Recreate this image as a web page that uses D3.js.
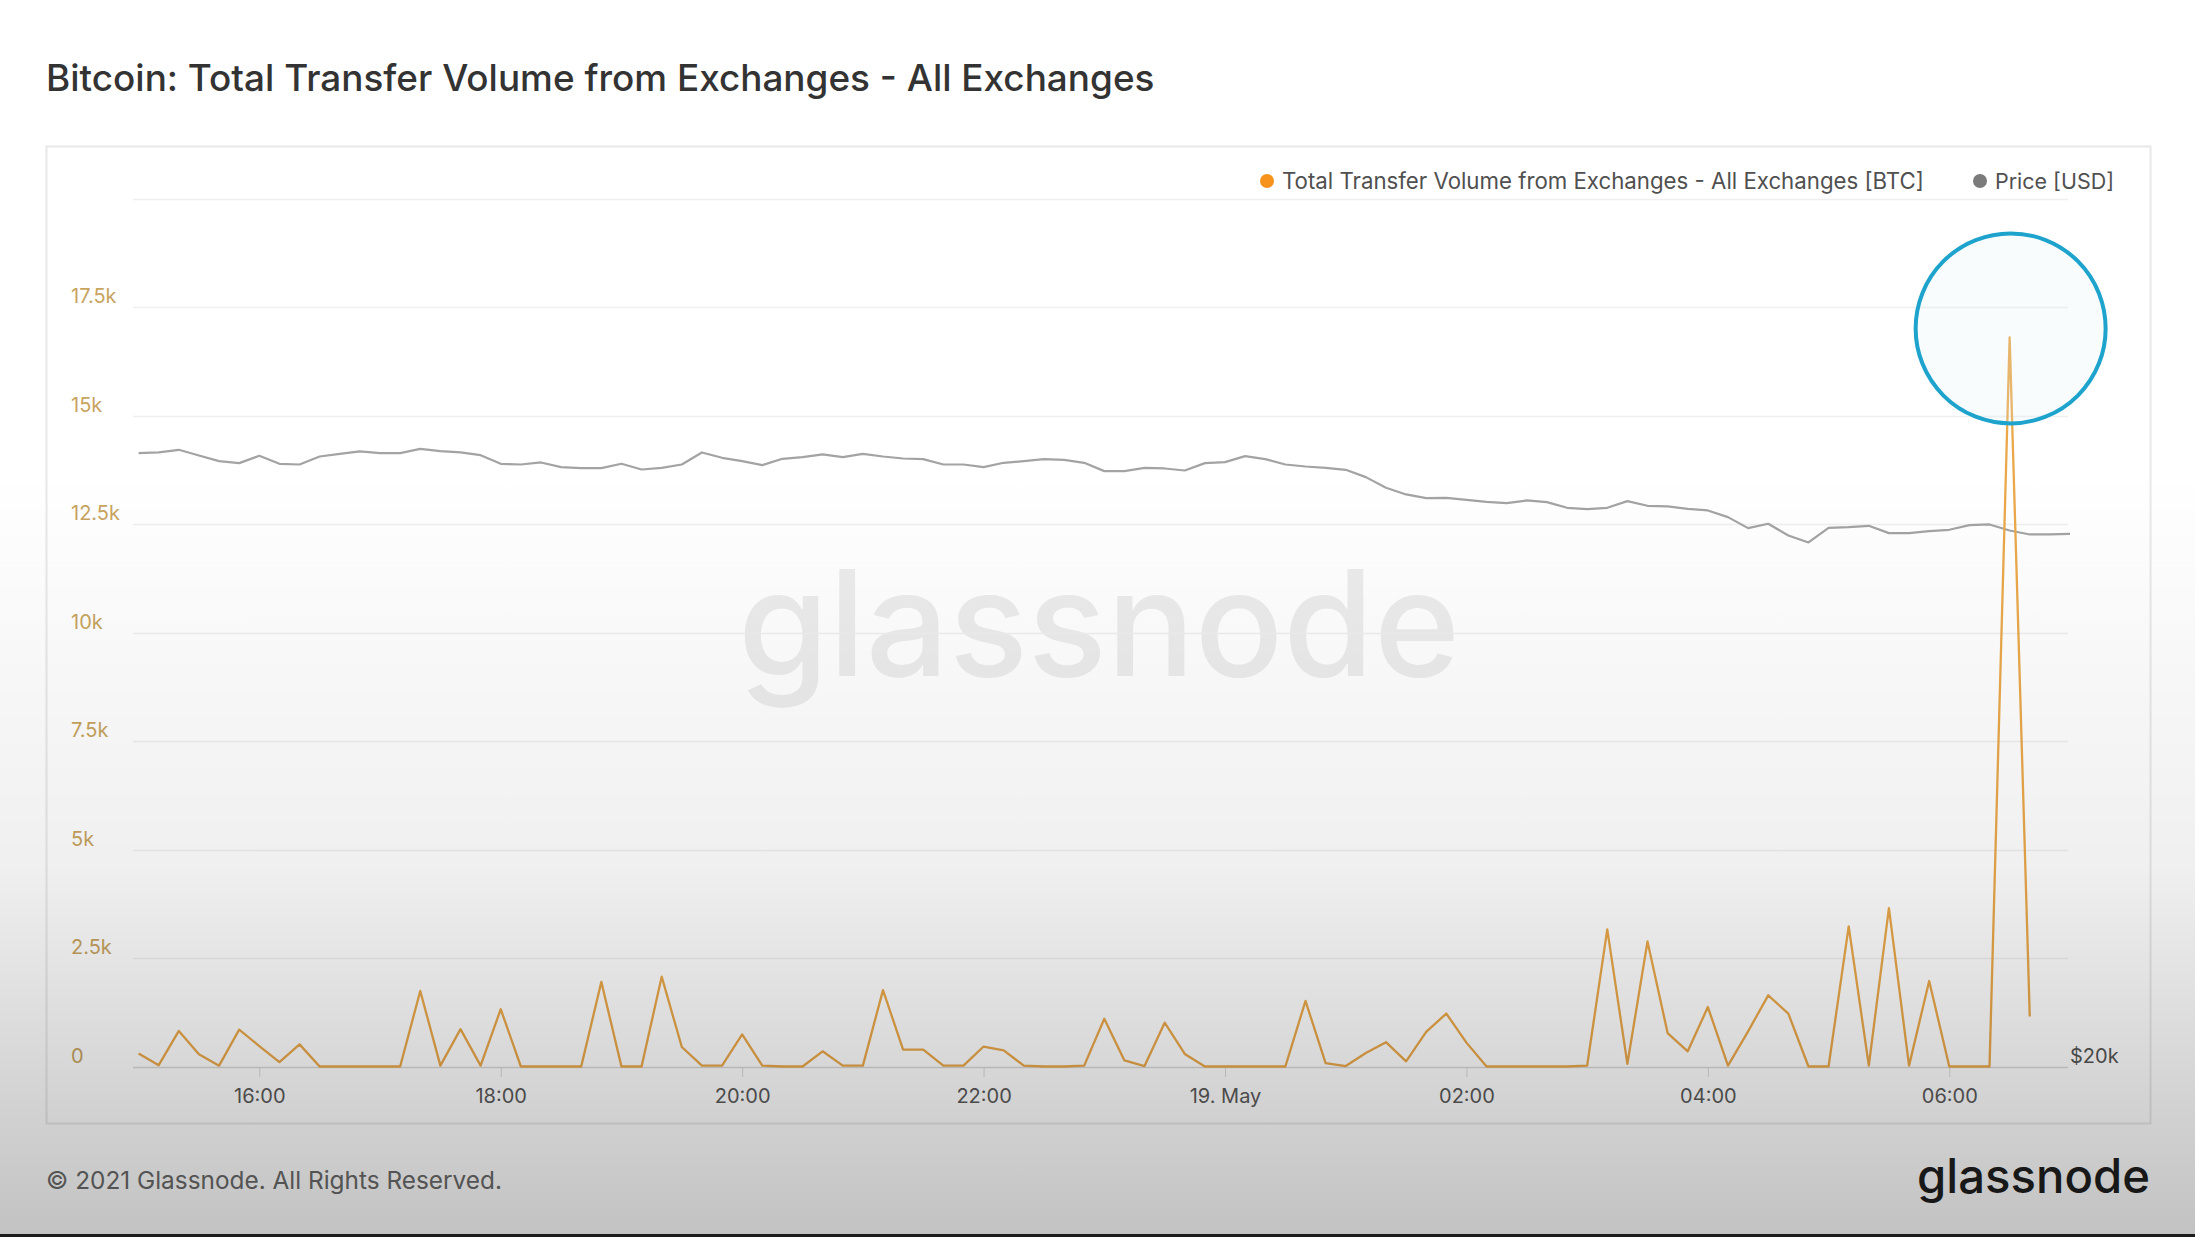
<meta charset="utf-8">
<script src="https://d3js.org/d3.v7.min.js"></script>
<style>
body { margin:0; background:#fff; overflow:hidden; }
svg text { font-family: Inter, "Noto Sans", sans-serif; }
</style>
<body>
<div id="rootElement"></div>
<script type="text/javascript">

// 10-minute points, 18 May 2021 15:00 onwards
var startTime = new Date(2021, 4, 18, 15, 0);

var volumeBTC = [
  300, 30, 820, 280, 20, 850, 470, 100, 510, 0,
  0, 0, 0, 0, 1740, 20, 860, 20, 1320, 0,
  0, 0, 0, 1950, 0, 0, 2070, 450, 20, 20,
  740, 20, 0, 0, 350, 20, 20, 1760, 390, 390,
  20, 20, 460, 370, 20, 0, 0, 20, 1100, 140,
  10, 1010, 290, 0, 0, 0, 0, 0, 1510, 80,
  10, 310, 560, 120, 800, 1220, 550, 0, 0, 0,
  0, 0, 20, 3160, 60, 2880, 770, 350, 1370, 20,
  810, 1640, 1220, 0, 0, 3230, 20, 3650, 20, 1970,
  0, 0, 0, 16800, 1150
];

var priceUSD = [
  43320, 43345, 43446, 43231, 43015, 42939, 43218, 42914, 42888, 43192,
  43294, 43383, 43319, 43319, 43484, 43395, 43345, 43243, 42914, 42888,
  42965, 42787, 42749, 42749, 42914, 42698, 42762, 42888, 43345, 43142,
  43015, 42863, 43104, 43167, 43269, 43167, 43294, 43192, 43116, 43091,
  42888, 42888, 42787, 42952, 43015, 43091, 43066, 42952, 42635, 42635,
  42762, 42736, 42660, 42939, 42977, 43205, 43091, 42888, 42812, 42762,
  42686, 42407, 42001, 41749, 41608, 41621, 41545, 41469, 41418, 41520,
  41456, 41241, 41190, 41241, 41494, 41317, 41292, 41203, 41140, 40886,
  40468, 40633, 40189, 39923, 40481, 40506, 40557, 40278, 40278, 40354,
  40405, 40582, 40607, 40379, 40227, 40227, 40252
];

var leftTicks = [0, 2500, 5000, 7500, 10000, 12500, 15000, 17500];
var gridTicks = [0, 2500, 5000, 7500, 10000, 12500, 15000, 17500, 20000];
var rightTicks = [20000];
var seriesNames = ['Total Transfer Volume from Exchanges - All Exchanges [BTC]', 'Price [USD]'];

var
  width = 2195,
  height = 1237,
  svg = d3.select('#rootElement').append('svg')
          .attr('width', width)
          .attr('height', height);

var timeAt = function(i) { return d3.timeMinute.offset(startTime, i * 10); };

var x = d3.scaleTime()
          .domain([startTime, d3.timeHour.offset(startTime, 16)])
          .range([138.6, 2070]);
var y = d3.scaleLinear().domain([0, 20000]).range([1066.5, 198.5]);
var yPrice = d3.scaleLinear().domain([20000, 53000]).range([1066.5, 198.5]);

// shrink/grow text so it covers the same width as in the screenshot
var fitWidth = function(sel, target) {
  var size = parseFloat(sel.attr('font-size'));
  var w = sel.node().getComputedTextLength();
  sel.attr('font-size', (size * target / w).toFixed(2));
};

// title
svg.append('text')
   .attr('x', 46).attr('y', 91)
   .attr('font-size', 34).attr('font-weight', 500)
   .attr('fill', '#333')
   .text('Bitcoin: Total Transfer Volume from Exchanges - All Exchanges')
   .call(fitWidth, 1109);

// panel
svg.append('rect')
   .attr('x', 46.5).attr('y', 146.5)
   .attr('width', 2104).attr('height', 977)
   .attr('fill', '#fff').attr('stroke', '#e8e8e8').attr('stroke-width', 2);

// watermark
svg.append('text')
   .attr('x', 1099).attr('y', 676)
   .attr('text-anchor', 'middle')
   .attr('font-size', 160).attr('font-weight', 500)
   .attr('fill', '#ececec')
   .text('glassnode')
   .call(fitWidth, 722);

// grid
svg.append('g').selectAll('line')
   .data(gridTicks).enter().append('line')
   .attr('x1', 133).attr('x2', 2068)
   .attr('y1', function(d) { return Math.round(y(d)) + 0.5; })
   .attr('y2', function(d) { return Math.round(y(d)) + 0.5; })
   .attr('stroke', function(d) { return d === 0 ? '#d9d9d9' : '#efefef'; })
   .attr('stroke-width', 1.5);

// left axis labels
svg.append('g').selectAll('text')
   .data(leftTicks).enter().append('text')
   .attr('x', 71)
   .attr('y', function(d) { return y(d) - 4; })
   .attr('font-size', 20)
   .attr('fill', '#c7a45f')
   .text(function(d) { return d === 0 ? '0' : d3.format('~')(d / 1000) + 'k'; });

// right axis label
svg.append('g').selectAll('text')
   .data(rightTicks).enter().append('text')
   .attr('x', 2070)
   .attr('y', function(d) { return yPrice(d) - 4; })
   .attr('font-size', 20)
   .attr('fill', '#555')
   .text(function(d) { return '$' + (d / 1000) + 'k'; });

// x axis
var xTicks = d3.timeHour.every(2).range(d3.timeHour.offset(startTime, 1), d3.timeHour.offset(startTime, 16));
var fmtTick = function(d) {
  return d.getHours() === 0 ? d3.timeFormat('%-d. %b')(d) : d3.timeFormat('%H:%M')(d);
};
var xAxis = svg.append('g')
   .attr('transform', 'translate(0,1067)')
   .call(d3.axisBottom(x).tickValues(xTicks).tickFormat(fmtTick).tickSize(10).tickPadding(12));
xAxis.select('.domain').remove();
xAxis.selectAll('line').attr('stroke', '#dadada');
xAxis.selectAll('text')
   .attr('font-size', 20)
   .attr('font-family', 'Inter, "Noto Sans", sans-serif')
   .attr('fill', '#5a5a5a');

// price line
var priceLine = d3.line()
   .x(function(d, i) { return x(timeAt(i)); })
   .y(function(d) { return yPrice(d); });
svg.append('path')
   .datum(priceUSD)
   .attr('d', priceLine)
   .attr('fill', 'none')
   .attr('stroke', '#a3a3a3')
   .attr('stroke-width', 2.2)
   .attr('stroke-linejoin', 'round');

// volume line
var volumeLine = d3.line()
   .x(function(d, i) { return x(timeAt(i)); })
   .y(function(d) { return y(d); });
svg.append('path')
   .datum(volumeBTC)
   .attr('d', volumeLine)
   .attr('fill', 'none')
   .attr('stroke', '#eaa84a')
   .attr('stroke-width', 2.3)
   .attr('stroke-linejoin', 'round');

// legend
var legendX = [1267, 1980];
var legendColors = ['#f7931a', '#7b7b7b'];
var legendW = [642, 119];
var legend = svg.append('g').selectAll('g')
   .data(seriesNames).enter().append('g');
legend.append('circle')
   .attr('cx', function(d, i) { return legendX[i]; })
   .attr('cy', 181).attr('r', 7)
   .attr('fill', function(d, i) { return legendColors[i]; });
legend.append('text')
   .attr('x', function(d, i) { return legendX[i] + 15; })
   .attr('y', 189)
   .attr('font-size', 21)
   .attr('fill', '#505050')
   .text(function(d) { return d; })
   .each(function(d, i) { fitWidth(d3.select(this), legendW[i]); });

// highlight around the spike
var peakIdx = volumeBTC.indexOf(d3.max(volumeBTC));
svg.append('circle')
   .attr('cx', x(timeAt(peakIdx)) + 1)
   .attr('cy', y(volumeBTC[peakIdx]) - 9)
   .attr('r', 95)
   .attr('fill', 'rgba(222,240,247,0.2)')
   .attr('stroke', '#1ea3cc')
   .attr('stroke-width', 4);

// footer
svg.append('text')
   .attr('x', 46).attr('y', 1189)
   .attr('font-size', 24)
   .attr('fill', '#6a6a6a')
   .text('\u00a9 2021 Glassnode. All Rights Reserved.')
   .call(fitWidth, 456);

svg.append('text')
   .attr('x', 2150).attr('y', 1193)
   .attr('text-anchor', 'end')
   .attr('font-size', 50).attr('font-weight', 500)
   .attr('fill', '#1e1e1e')
   .text('glassnode')
   .call(fitWidth, 233);

// video vignette: darkening towards the bottom
var defs = svg.append('defs');
var grad = defs.append('linearGradient')
   .attr('id', 'shade').attr('x1', 0).attr('y1', 0).attr('x2', 0).attr('y2', 1);
grad.append('stop').attr('offset', '0.38').attr('stop-color', '#000').attr('stop-opacity', 0);
grad.append('stop').attr('offset', '0.7').attr('stop-color', '#000').attr('stop-opacity', 0.06);
grad.append('stop').attr('offset', '1').attr('stop-color', '#000').attr('stop-opacity', 0.24);
svg.append('rect')
   .attr('width', width).attr('height', height)
   .attr('fill', 'url(#shade)')
   .style('pointer-events', 'none');

svg.append('rect')
   .attr('x', 0).attr('y', 1234)
   .attr('width', width).attr('height', 3)
   .attr('fill', '#1c1c1c');

</script>
</body>
</html>
